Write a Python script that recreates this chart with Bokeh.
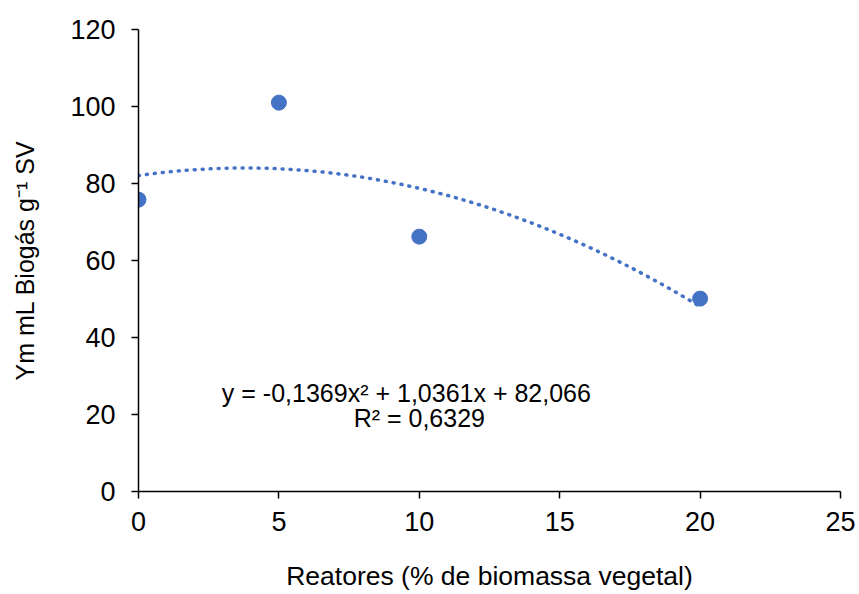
import numpy as np
from bokeh.plotting import figure
from bokeh.models import Range1d, FixedTicker, Label
from bokeh.embed import file_html
from bokeh.resources import INLINE

# data
reatores = [0, 5, 10, 20]
ym = [75.8, 101.0, 66.2, 50.1]
trend_coef = [-0.1369, 1.0361, 82.066]  # a x^2 + b x + c (shown on chart)
trend_x_range = [0, 20]
x_ticks = [0, 5, 10, 15, 20, 25]
y_ticks = [0, 20, 40, 60, 80, 100, 120]
eq_text = "y = -0,1369x\u00b2 + 1,0361x + 82,066"
r2_text = "R\u00b2 = 0,6329"

BLUE = "#4472C4"
FONT = "Liberation Sans"

p = figure(width=858, height=593, output_backend="svg", toolbar_location=None,
           x_range=Range1d(0, 25), y_range=Range1d(0, 120),
           min_border_left=138, min_border_right=18, min_border_top=29, min_border_bottom=102)
p.outline_line_color = None
p.grid.grid_line_color = None

tx = np.linspace(trend_x_range[0], trend_x_range[1], 200)
ty = np.polyval(trend_coef, tx)
p.line(tx, ty, line_color=BLUE, line_width=3.5, line_dash="1 7", line_cap="round")
p.scatter(reatores, ym, size=15, color=BLUE)

for ax in (p.xaxis[0], p.yaxis[0]):
    ax.axis_line_color = "black"
    ax.axis_line_width = 1.5
    ax.major_tick_line_color = "black"
    ax.major_tick_line_width = 1.5
    ax.major_tick_out = 7
    ax.major_tick_in = 0
    ax.minor_tick_line_color = None
    ax.major_label_text_font = FONT
    ax.major_label_text_font_size = "27px"
    ax.major_label_text_color = "black"
    ax.axis_label_text_font = FONT
    ax.axis_label_text_font_style = "normal"
    ax.axis_label_text_color = "black"

p.xaxis.axis_label_text_font_size = "26.5px"
p.yaxis.axis_label_text_font_size = "25px"
p.xaxis.ticker = FixedTicker(ticks=x_ticks)
p.yaxis.ticker = FixedTicker(ticks=y_ticks)
p.xaxis.axis_label = "Reatores (% de biomassa vegetal)"
p.yaxis.axis_label = "Ym mL Biog\u00e1s g\u207b\u00b9 SV"
p.xaxis.major_label_standoff = 13
p.yaxis.major_label_standoff = 16
p.xaxis.axis_label_standoff = 27
p.yaxis.axis_label_standoff = 28

p.add_layout(Label(x=9.54, y=25.7, text=eq_text, text_align="center", text_baseline="alphabetic",
                   text_font=FONT, text_font_size="25px", text_color="black"))
p.add_layout(Label(x=10.0, y=19.0, text=r2_text, text_align="center", text_baseline="alphabetic",
                   text_font=FONT, text_font_size="25px", text_color="black"))

open("out.html", "w").write(file_html(p, INLINE))
